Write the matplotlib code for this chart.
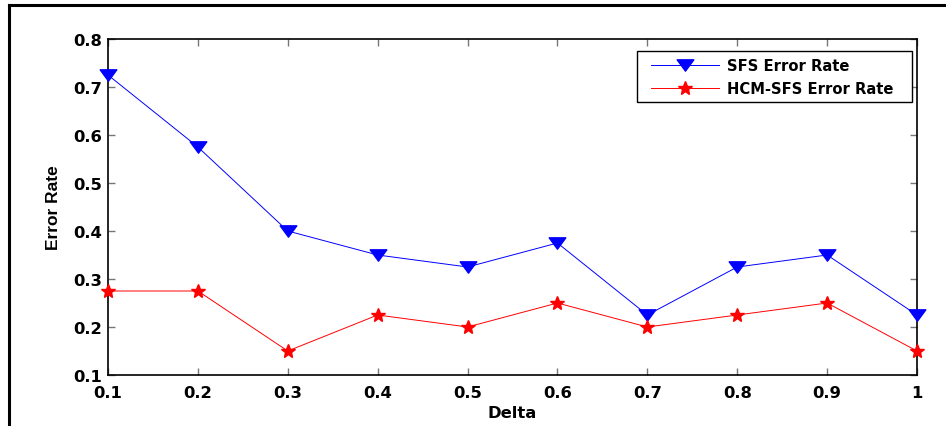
import matplotlib.pyplot as plt
from matplotlib.lines import Line2D
from matplotlib.patches import Rectangle
from matplotlib.path import Path

delta = [0.1, 0.2, 0.3, 0.4, 0.5, 0.6, 0.7, 0.8, 0.9, 1.0]
sfs_err = [0.725, 0.575, 0.4, 0.35, 0.325, 0.375, 0.225, 0.325, 0.35, 0.225]
hcm_err = [0.275, 0.275, 0.15, 0.225, 0.2, 0.25, 0.2, 0.225, 0.25, 0.15]
xticks = [0.1, 0.2, 0.3, 0.4, 0.5, 0.6, 0.7, 0.8, 0.9, 1.0]
xtick_labels = ["0.1", "0.2", "0.3", "0.4", "0.5", "0.6", "0.7", "0.8", "0.9", "1"]
yticks = [0.1, 0.2, 0.3, 0.4, 0.5, 0.6, 0.7, 0.8]

plt.rcParams["font.family"] = ["DejaVu Sans"]

W, H = 946, 427
fig = plt.figure(figsize=(W / 100, H / 100), dpi=100, facecolor="white")

# outer frame (clipped on right/bottom like the original export)
fig.add_artist(Line2D([9 / W, 9 / W], [0, 1 - 6 / H], color="black", lw=2.2,
                      transform=fig.transFigure))
fig.add_artist(Line2D([9 / W, 1], [1 - 6 / H, 1 - 6 / H], color="black", lw=2.2,
                      transform=fig.transFigure))

left, right, top, bottom = 108, 917, 40, 376
ax = fig.add_axes([left / W, 1 - bottom / H, (right - left) / W, (bottom - top) / H])

# wide, flat downward triangle like the original
tri = Path([(-1, 0.68), (1, 0.68), (0, -0.68), (-1, 0.68)],
           [Path.MOVETO, Path.LINETO, Path.LINETO, Path.CLOSEPOLY])

ax.plot(delta, sfs_err, color="blue", lw=0.7, marker=tri, markersize=12,
        markeredgecolor="blue", markerfacecolor="blue", label="SFS Error Rate",
        clip_on=False, zorder=3)
ax.plot(delta, hcm_err, color="red", lw=0.7, marker="*", markersize=10,
        markeredgecolor="red", markerfacecolor="red", label="HCM-SFS Error Rate",
        clip_on=False, zorder=3)

ax.set_xlim(0.1, 1.0)
ax.set_ylim(0.1, 0.8)
ax.set_xticks(xticks)
ax.set_xticklabels(xtick_labels)
ax.set_yticks(yticks)
ax.set_yticklabels([f"{v:.1f}" for v in yticks])

ax.tick_params(direction="in", top=True, right=True, length=5, width=1,
               color="#777777", labelsize=11.8)
ax.tick_params(axis="x", pad=7)
ax.tick_params(axis="y", pad=4)
for lab in ax.get_xticklabels() + ax.get_yticklabels():
    lab.set_fontweight("bold")
for sp in ax.spines.values():
    sp.set_linewidth(1.2)

ax.set_xlabel("Delta", fontsize=11.8, fontweight="bold", labelpad=4)
ax.set_ylabel("Error Rate", fontsize=12.5, fontweight="bold", labelpad=9,
              family="Liberation Sans")

# legend content placed inside a hand-drawn box (original has wider side padding)
aw, ah = right - left, bottom - top
leg = ax.legend(loc="upper left",
                bbox_to_anchor=((651 - left) / aw, 1 - (59 - top) / ah),
                prop={"weight": "bold", "size": 10.6}, frameon=False,
                borderpad=0, handlelength=4.6, handletextpad=0.55,
                labelspacing=0.55, borderaxespad=0)
fig.add_artist(Rectangle((637 / W, 1 - 103 / H), (912 - 637) / W, 51 / H,
                         transform=fig.transFigure, facecolor="white",
                         edgecolor="black", lw=1.0, zorder=4))
leg.set_zorder(5)
fig.add_artist(leg)

fig.savefig("out.png", dpi=100, facecolor="white")
